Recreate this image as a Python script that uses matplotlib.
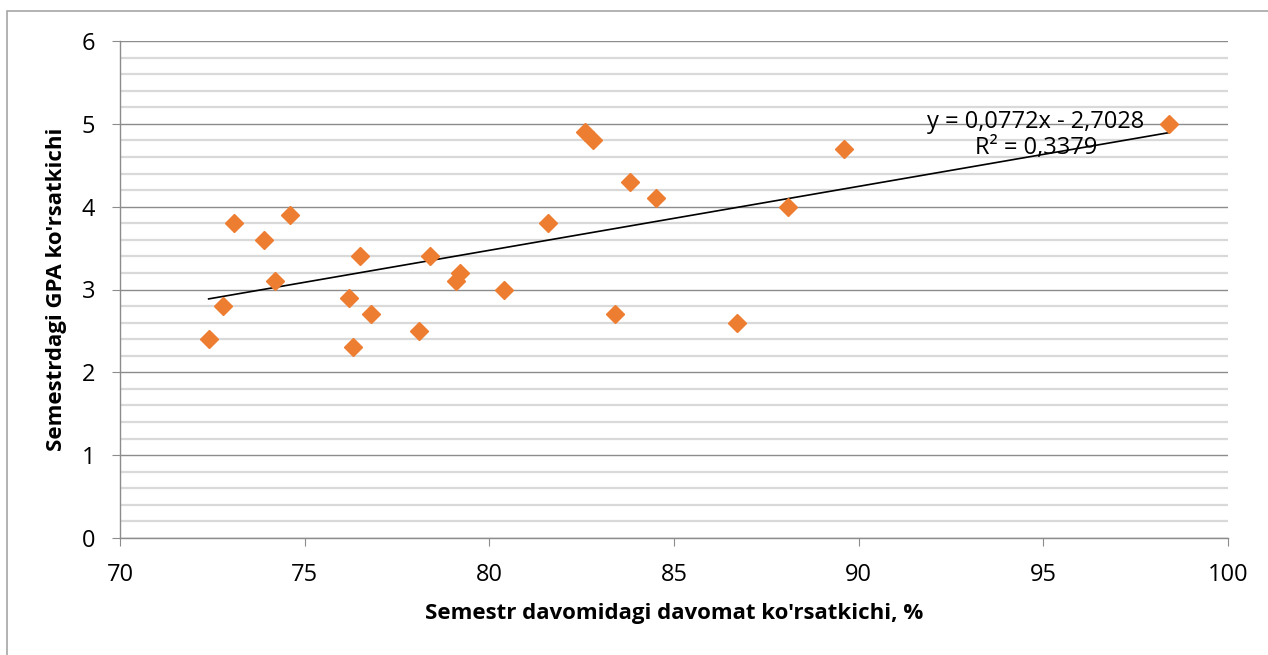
import numpy as np
import matplotlib.pyplot as plt
from matplotlib.patches import Rectangle
from matplotlib.ticker import MultipleLocator

plt.rcParams['font.family'] = ['Open Sans', 'DejaVu Sans']

# attendance (%) and semester GPA
davomat = [72.4, 72.8, 73.1, 73.9, 74.2, 74.6, 76.2, 76.3, 76.5, 76.8,
           78.1, 78.4, 79.1, 79.2, 80.4, 81.6, 82.6, 82.8, 83.4, 83.8,
           84.5, 86.7, 88.1, 89.6, 98.4]
gpa = [2.4, 2.8, 3.8, 3.6, 3.1, 3.9, 2.9, 2.3, 3.4, 2.7,
       2.5, 3.4, 3.1, 3.2, 3.0, 3.8, 4.9, 4.8, 2.7, 4.3,
       4.1, 2.6, 4.0, 4.7, 5.0]

# trendline from the chart
slope = 0.0772
intercept = -2.7028
r2 = 0.3379

fig = plt.figure(figsize=(12.68, 6.55), dpi=100)
ax = fig.add_axes([120/1268, 117/655, 1108/1268, 497/655])

# chart frame (only top and left edges are visible in the picture)
fig.patches.append(Rectangle((7/1268, -0.1), 1.2, (655-11)/655 + 0.1,
                             transform=fig.transFigure, fill=False,
                             edgecolor='#a6a6a6', linewidth=1.2))

ax.set_xlim(70, 100)
ax.set_ylim(0, 6)
ax.xaxis.set_major_locator(MultipleLocator(5))
ax.yaxis.set_major_locator(MultipleLocator(1))
ax.yaxis.set_minor_locator(MultipleLocator(0.2))
ax.grid(which='major', axis='y', color='#8c8c8c', linewidth=1.0)
ax.grid(which='minor', axis='y', color='#d9d9d9', linewidth=1.6)
ax.set_axisbelow(True)

for s in ['top', 'right']:
    ax.spines[s].set_visible(False)
for s in ['left', 'bottom']:
    ax.spines[s].set_color('#8c8c8c')
    ax.spines[s].set_linewidth(1.0)

ax.tick_params(axis='both', which='major', length=6, color='#8c8c8c',
               labelsize=17, direction='out')
ax.tick_params(axis='y', which='minor', length=0)
ax.tick_params(axis='y', pad=12)
ax.tick_params(axis='x', pad=12)

xs = np.array([min(davomat), max(davomat)])
ax.plot(xs, slope * xs + intercept, color='black', linewidth=1.2, zorder=2)
ax.plot(davomat, gpa, linestyle='none', marker='D', markersize=9.5,
        color='#ed7d31', zorder=3)

ax.text(94.8, 4.865, f'y = {slope:.4f}x - {-intercept:.4f}\nR² = {r2:.4f}'.replace('.', ','),
        ha='center', va='center', fontsize=17, multialignment='center',
        linespacing=1.15)

ax.set_xlabel("Semestr davomidagi davomat ko'rsatkichi, %", fontsize=16,
              fontweight='bold', va='center')
ax.xaxis.set_label_coords(0.5, (538 - 613) / 497)
ax.set_ylabel("Semestrdagi GPA ko'rsatkichi", fontsize=16,
              fontweight='bold', va='center')
ax.yaxis.set_label_coords((57 - 120) / 1108, 0.5)

fig.savefig('out.png', dpi=100)
